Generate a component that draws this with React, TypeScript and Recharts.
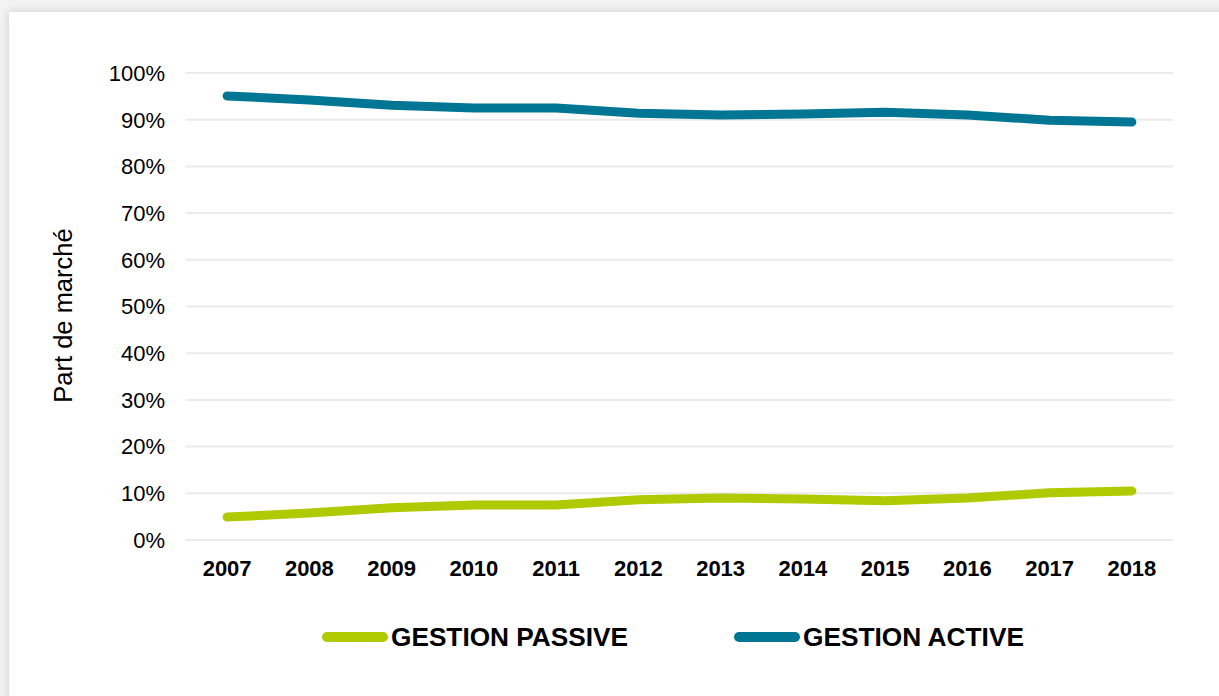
import React from 'react';
import { LineChart, Line, XAxis, YAxis, CartesianGrid } from 'recharts';

// Market share by management style, 2007–2018 (percent)
const years = ['2007', '2008', '2009', '2010', '2011', '2012', '2013', '2014', '2015', '2016', '2017', '2018'];
const passive = [4.9, 5.8, 6.9, 7.5, 7.5, 8.6, 9.0, 8.8, 8.4, 9.0, 10.1, 10.5];
const active = [95.1, 94.2, 93.1, 92.5, 92.5, 91.4, 91.0, 91.2, 91.6, 91.0, 89.9, 89.5];
const yTicks = [0, 10, 20, 30, 40, 50, 60, 70, 80, 90, 100];

const PASSIVE_COLOR = '#afca00';
const ACTIVE_COLOR = '#007694';

const seriesInfo = [
  { key: 'passive', name: 'GESTION PASSIVE', color: PASSIVE_COLOR },
  { key: 'active', name: 'GESTION ACTIVE', color: ACTIVE_COLOR },
];

const data = years.map((year, i) => ({ year, passive: passive[i], active: active[i] }));

const FONT = 'Arial, "Liberation Sans", Helvetica, sans-serif';

// Legend: thick rounded swatches followed by bold uppercase labels
const legendLayout = [
  { x: 327, textLength: 237 },
  { x: 739, textLength: 221 },
];

const ChartLegend = () => (
  <svg width={1219} height={46} style={{ position: 'absolute', left: 0, top: 615, display: 'block' }}>
    {seriesInfo.map((s, i) => {
      const pos = legendLayout[i];
      return (
        <g key={s.key}>
          <line
            x1={pos.x}
            x2={pos.x + 56}
            y1={22}
            y2={22}
            stroke={s.color}
            strokeWidth={10}
            strokeLinecap="round"
          />
          <text
            x={pos.x + 64}
            y={31}
            fontFamily={FONT}
            fontWeight="bold"
            fontSize={25}
            fill="#000"
            textLength={pos.textLength}
            lengthAdjust="spacingAndGlyphs"
          >
            {s.name}
          </text>
        </g>
      );
    })}
  </svg>
);

// Vertical axis title, placed to the left of the tick labels
const YTitle = (props: any) => {
  const vb = props.viewBox || {};
  const x = vb.x + 26;
  const y = vb.y + vb.height / 2 + 9;
  return (
    <text
      x={x}
      y={y}
      transform={`rotate(-90, ${x}, ${y})`}
      textAnchor="middle"
      fontFamily={FONT}
      fontSize={25.5}
      fill="#000"
    >
      Part de marché
    </text>
  );
};

export default function App() {
  return (
    <div
      style={{
        position: 'absolute',
        left: 0,
        top: 0,
        width: 1219,
        height: 696,
        overflow: 'hidden',
        background: '#f3f3f3',
        fontFamily: FONT,
      }}
    >
      <div
        style={{
          position: 'absolute',
          left: 9,
          top: 12,
          width: 1240,
          height: 720,
          background: '#ffffff',
          boxShadow: '0 0 9px rgba(0,0,0,0.16)',
        }}
      />
      <div style={{ position: 'absolute', left: 0, top: 0 }}>
        <LineChart
          width={1219}
          height={696}
          data={data}
          margin={{ top: 73, right: 46, bottom: 126, left: 46 }}
        >
          <CartesianGrid vertical={false} stroke="#ebebeb" strokeWidth={2} />
          <XAxis
            dataKey="year"
            scale="band"
            height={30}
            axisLine={false}
            tickLine={false}
            tickSize={0}
            tickMargin={20}
            interval={0}
            tick={{ fontFamily: FONT, fontSize: 22, fontWeight: 'bold', fill: '#000' }}
          />
          <YAxis
            width={140}
            domain={[0, 100]}
            ticks={yTicks}
            interval={0}
            axisLine={false}
            tickLine={false}
            tickSize={0}
            tickMargin={21}
            tickFormatter={(v: number) => `${v}%`}
            tick={{ fontFamily: FONT, fontSize: 22, fill: '#000' }}
            label={<YTitle />}
          />
          {seriesInfo.map((s) => (
            <Line
              key={s.key}
              type="linear"
              dataKey={s.key}
              name={s.name}
              stroke={s.color}
              strokeWidth={9}
              strokeLinecap="round"
              strokeLinejoin="round"
              dot={false}
              activeDot={false}
              isAnimationActive={false}
            />
          ))}
        </LineChart>
      </div>
      <ChartLegend />
    </div>
  );
}
